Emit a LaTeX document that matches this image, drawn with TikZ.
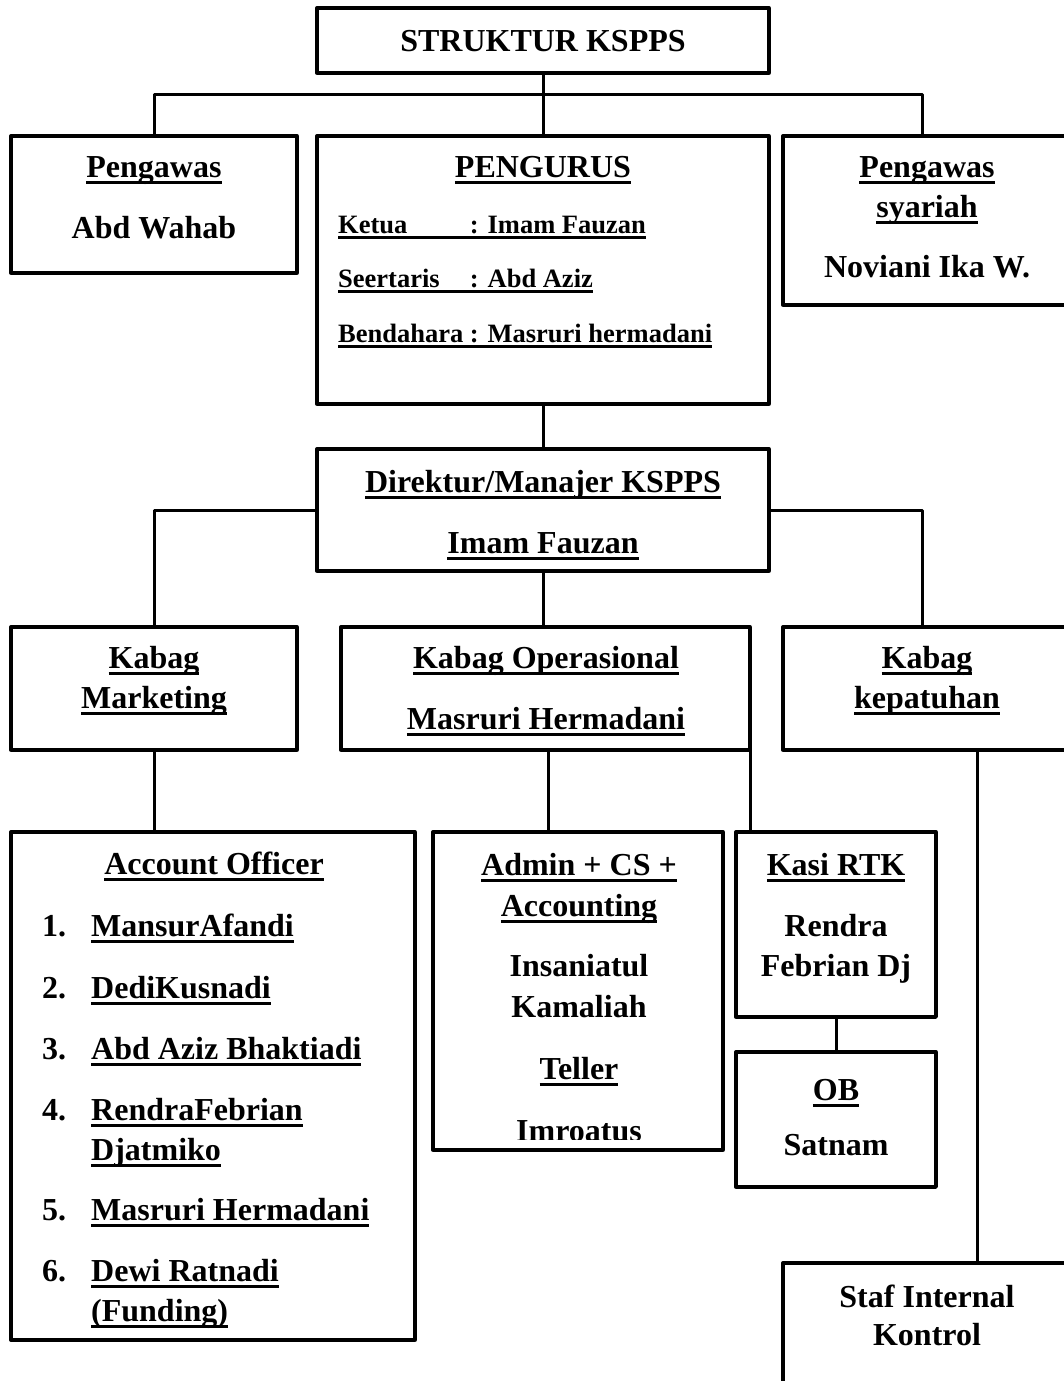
\documentclass[tikz,border=0pt]{standalone}
\usepackage{fontspec}
\setmainfont{Liberation Serif}
\newcommand{\bigf}{\fontsize{32}{38}\selectfont\bfseries}
\newcommand{\smallf}{\fontsize{26.5}{32}\selectfont\bfseries}
\newsavebox{\ulbox}
\newcommand{\uln}[1]{\sbox{\ulbox}{#1}\rlap{\rule[-0.22em]{\wd\ulbox}{0.11em}}\usebox{\ulbox}}
\newlength{\colw}
\tikzset{
  box/.style={draw, line width=3.3pt, inner sep=0pt, outer sep=0pt, anchor=north west},
  conn/.style={line width=3pt},
  lbl/.style={anchor=base, inner sep=0pt, font=\bigf},
  lblw/.style={anchor=base west, inner sep=0pt, font=\bigf},
  lblsm/.style={anchor=base west, inner sep=0pt, font=\smallf}
}
\begin{document}
\settowidth{\colw}{\smallf Bendahara\ }
\begin{tikzpicture}[x=1pt, y=-1pt, line join=round]
	\useasboundingbox (0,0) rectangle (1064,1381);
	\fill[white] (0,0) rectangle (1064,1381);
	\clip (0,0) rectangle (1064,1381);
	\node[box, minimum width=452pt, minimum height=65pt] (title) at (317,8) {};
	\node[box, minimum width=286pt, minimum height=137pt] (pengawas) at (11,136) {};
	\node[box, minimum width=452pt, minimum height=268pt] (pengurus) at (317,136) {};
	\node[box, minimum width=287pt, minimum height=169pt] (syariah) at (783,136) {};
	\node[box, minimum width=452pt, minimum height=122pt] (direktur) at (317,449) {};
	\node[box, minimum width=286pt, minimum height=123pt] (kmkt) at (11,627) {};
	\node[box, minimum width=409pt, minimum height=123pt] (kop) at (341,627) {};
	\node[box, minimum width=287pt, minimum height=123pt] (kpat) at (783,627) {};
	\node[box, minimum width=404pt, minimum height=508pt] (ao) at (11,832) {};
	\node[box, minimum width=290pt, minimum height=318pt] (admin) at (433,832) {};
	\node[box, minimum width=200pt, minimum height=185pt] (kasi) at (736,832) {};
	\node[box, minimum width=200pt, minimum height=135pt] (ob) at (736,1052) {};
	\node[box, minimum width=287pt, minimum height=200pt] (staf) at (783,1263) {};
	\coordinate (busR) at (922,94);
	\draw[conn] (title) -- (pengurus);
	\draw[conn] (pengawas.north) |- (busR) -- (busR |- syariah.north);
	\draw[conn] (pengurus) -- (direktur);
	\draw[conn] (kmkt.north) |- (direktur.west);
	\draw[conn] (direktur.east) -| ([xshift=-4.5pt]kpat.north);
	\draw[conn] (direktur.south) -- (direktur.south |- kop.north);
	\draw[conn] (kmkt.south) -- (kmkt.south |- ao.north);
	\draw[conn] ([xshift=2.5pt]kop.south) -- ([xshift=2.5pt]kop.south |- admin.north);
	\draw[conn] (kop.south east) -- (kop.south east |- kasi.north);
	\draw[conn] (kasi) -- (ob);
	\draw[conn] ([xshift=50.5pt]kpat.south) -- ([xshift=50.5pt]kpat.south |- staf.north);
	\node[lbl] (tTitle) at (543,52) {STRUKTUR KSPPS};
	\node[lbl] (tPgw) at (154,177) {\uln{Pengawas}};
	\node[lbl] (tPgwName) at (154,238) {Abd Wahab};
	\node[lbl] (tPgr) at (543,177) {\uln{PENGURUS}};
	\node[lblsm] (tKetua) at (338,233) {\uln{\makebox[\colw][l]{Ketua}: Imam Fauzan}};
	\node[lblsm] (tSek) at (338,287) {\uln{\makebox[\colw][l]{Seertaris}: Abd Aziz}};
	\node[lblsm] (tBend) at (338,342) {\uln{Bendahara : Masruri hermadani}};
	\node[lbl] (tSya1) at (927,177) {\uln{Pengawas}};
	\node[lbl] (tSya2) at (927,217) {\uln{syariah}};
	\node[lbl] (tSyaName) at (927,277) {Noviani Ika W.};
	\node[lbl] (tDir) at (543,492) {\uln{Direktur/Manajer KSPPS}};
	\node[lbl] (tDirName) at (543,553) {\uln{Imam Fauzan}};
	\node[lbl] (tMkt1) at (154,668) {\uln{Kabag}};
	\node[lbl] (tMkt2) at (154,708) {\uln{Marketing}};
	\node[lbl] (tOp) at (546,668) {\uln{Kabag Operasional}};
	\node[lbl] (tOpName) at (546,729) {\uln{Masruri Hermadani}};
	\node[lbl] (tPat1) at (927,668) {\uln{Kabag}};
	\node[lbl] (tPat2) at (927,708) {\uln{kepatuhan}};
	\node[lbl] (tAo) at (214,874) {\uln{Account Officer}};
	\foreach \n/\y/\who in {1/936/MansurAfandi, 2/998/DediKusnadi, 3/1059/Abd Aziz Bhaktiadi,
		4/1120/RendraFebrian, 5/1220/Masruri Hermadani, 6/1281/Dewi Ratnadi}
	{
		\node[lblw] (aoNum\n) at (42,\y) {\n.};
		\node[lblw] (aoName\n) at (91,\y) {\uln{\who}};
	}
	\node[lblw] (aoName4b) at (91,1160) {\uln{Djatmiko}};
	\node[lblw] (aoName6b) at (91,1321) {\uln{(Funding)}};
	\node[lbl] (tAdm1) at (579,875) {\uln{Admin + CS +}};
	\node[lbl] (tAdm2) at (579,916) {\uln{Accounting}};
	\node[lbl] (tAdmName1) at (579,976) {Insaniatul};
	\node[lbl] (tAdmName2) at (579,1017) {Kamaliah};
	\node[lbl] (tTeller) at (579,1079) {\uln{Teller}};
	\begin{scope}
		\clip (433,832) rectangle (723,1139);
		\node[lbl] (tTellerName) at (579,1141) {Imroatus};
	\end{scope}
	\node[lbl] (tKasi) at (836,875) {\uln{Kasi RTK}};
	\node[lbl] (tKasiName1) at (836,936) {Rendra};
	\node[lbl] (tKasiName2) at (836,976) {Febrian Dj};
	\node[lbl] (tOb) at (836,1100) {\uln{OB}};
	\node[lbl] (tObName) at (836,1155) {Satnam};
	\node[lbl] (tStaf1) at (927,1307) {Staf Internal};
	\node[lbl] (tStaf2) at (927,1345) {Kontrol};
\end{tikzpicture}
\end{document}
